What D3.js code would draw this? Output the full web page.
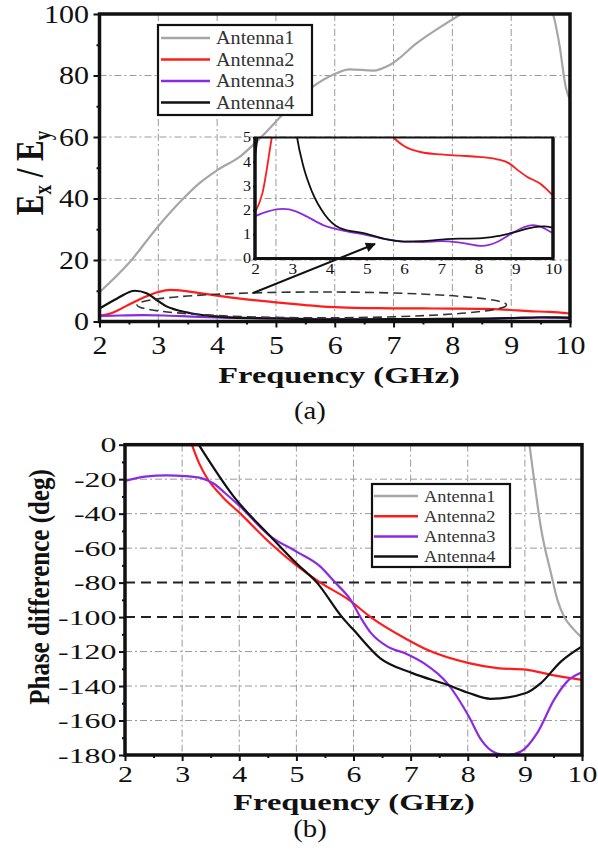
<!DOCTYPE html>
<html><head><meta charset="utf-8">
<script src="https://cdn.jsdelivr.net/npm/d3@7"></script>
<style>body{margin:0;background:#fff}svg{display:block}text{font-family:"Liberation Serif","Times New Roman",serif}</style>
</head><body><svg id="c" width="598" height="861"></svg>
<script>
// ---------- data ----------
const freqTicks = [2,3,4,5,6,7,8,9,10];
const ratioTicks = [0,20,40,60,80,100];
const insetTicks = [0,1,2,3,4,5];
const phaseTicks = [0,-20,-40,-60,-80,-100,-120,-140,-160,-180];
const names = ["Antenna1","Antenna2","Antenna3","Antenna4"];

// Ex/Ey ratio (Frequency GHz, ratio)
const ratioA1 = [[2,9.5],[2.5,19],[3,31],[3.4,39.5],[3.7,45],[4,49.2],[4.4,53.8],[4.75,60],[5.1,67],[5.6,76],[6,80.5],[6.25,82],[6.65,81.6],[6.95,83.6],[7.4,90.6],[7.8,95.8],[8.15,100],[8.5,104],[9.0,108],[9.4,107],[9.6,103],[9.71,100],[9.82,90],[9.93,76],[10,72]];
const ratioA2 = [[2,1.9],[2.2,2.7],[2.45,5],[2.75,7.8],[3,9.6],[3.2,10.3],[3.5,9.8],[4,8.4],[4.5,7.2],[5,6.2],[5.5,5.35],[5.75,4.95],[6,4.65],[6.5,4.38],[7,4.3],[7.5,4.25],[8,4.2],[8.5,4.1],[8.8,3.95],[9.1,3.6],[9.3,3.38],[9.65,3.1],[10,2.6]];
const ratioA3 = [[2,1.75],[2.35,1.95],[2.75,2.05],[3.1,1.95],[3.4,1.73],[3.83,1.38],[4.28,1.18],[5,0.97],[5.6,0.78],[6,0.7],[6.5,0.68],[7,0.72],[7.5,0.66],[8.1,0.52],[8.5,0.68],[8.85,1.0],[9.2,1.28],[9.45,1.38],[9.6,1.35],[9.8,1.22],[10,1.04]];
const ratioA4 = [[2,4.2],[2.3,7.5],[2.6,10],[2.8,9.2],[3,6.6],[3.13,5],[3.3,3.8],[3.53,2.76],[3.88,1.8],[4.28,1.26],[5,1.02],[5.5,0.8],[6,0.7],[6.5,0.72],[7,0.78],[7.5,0.82],[8,0.83],[8.5,0.92],[9,1.1],[9.5,1.3],[9.75,1.33],[10,1.27]];

// Phase difference (Frequency GHz, deg)
const phaseA1 = [[9.08,0],[9.16,-20],[9.28,-48],[9.46,-75],[9.57,-90],[9.69,-100],[9.85,-107],[10,-112]];
const phaseA2 = [[3.17,0],[3.3,-11],[3.43,-19],[3.7,-30],[4.02,-40],[4.54,-57],[5.0,-70],[5.42,-80],[5.92,-90],[6.3,-100],[6.94,-113],[7.29,-119],[8.02,-126.7],[8.52,-129.6],[9.02,-130.5],[9.46,-133.5],[10,-136.4]];
const phaseA3 = [[2,-21],[2.35,-18.5],[2.73,-17.8],[3.05,-18.2],[3.35,-19.5],[3.55,-22.5],[3.75,-28],[4.02,-36],[4.54,-53],[5.0,-62],[5.42,-70.7],[5.68,-80],[5.95,-90],[6.12,-100],[6.3,-109],[6.59,-117],[6.94,-121.5],[7.23,-126.7],[7.64,-138.3],[8.02,-157.7],[8.23,-171],[8.5,-179],[8.7,-180],[8.93,-178],[9.22,-167],[9.51,-148],[9.75,-137],[10,-132]];
const phaseA4 = [[3.29,0],[3.9,-30],[4.54,-53],[5.0,-68.8],[5.36,-80],[5.8,-100],[6.0,-107.4],[6.47,-124],[7.03,-132.5],[7.64,-139.3],[8.02,-144],[8.4,-147.4],[9.02,-144],[9.28,-138.3],[9.63,-125.8],[10,-117]];

const phaseRefLines = [-80,-100];
// annotation (data units): ellipse in main plot, arrow from main plot to inset
const ellipseCenter = [5.78, 5.4], ellipseRadius = [3.14, 4.2];
const arrowFromMain = [4.6, 9.2], arrowToInset = [5.22, 0.6];

const colors = ["#a6a6a6","#ff1c1c","#8a2be2","#111111"];
const ratioSeries = [ratioA1, ratioA2, ratioA3, ratioA4];
const phaseSeries = [phaseA1, phaseA2, phaseA3, phaseA4];

// ---------- drawing ----------
const svg = d3.select("#c");
const defs = svg.append("defs");
const gridDash = "7,3,2,3";

function txt(g, x, y, s, o) {
  const t = g.append("text")
    .attr("transform", `translate(${x},${y}) scale(${o.k||1},1)` + (o.rot ? ` rotate(${o.rot})` : ""))
    .attr("text-anchor", o.anchor || "middle")
    .attr("font-size", o.size)
    .attr("font-weight", o.weight || "normal")
    .attr("fill", o.fill || "#111");
  if (s !== null) t.text(s);
  return t;
}
function clip(id, x, y, w, h) {
  defs.append("clipPath").attr("id", id).append("rect").attr("x", x).attr("y", y).attr("width", w).attr("height", h);
}
function styleAxis(g, size, k, left) {
  g.attr("font-family", null).attr("font-size", null);
  g.select(".domain").remove();
  g.selectAll(".tick line").attr("stroke", "#111").attr("stroke-width", 2);
  g.selectAll(".tick text").attr("font-size", size).attr("fill", "#111")
    .attr("transform", `scale(${k},1)`)
    .each(function(){ if (left) { const t = d3.select(this); t.attr("x", +t.attr("x") / k); } });
}
function minor(g, axis, scale, vals, size) {
  g.append("g").call(axis(scale).tickValues(vals).tickSize(size).tickFormat("")).call(a => {
    a.select(".domain").remove();
    a.selectAll("line").attr("stroke", "#111").attr("stroke-width", 2);
  });
}

// ===== Chart (a) =====
const xA = d3.scaleLinear([2,10],[99.5,570]);
const yA = d3.scaleLinear([0,100],[321.5,14]);
const gA = svg.append("g");
clip("clipA", 99.5, 14, 470.5, 307.5);

gA.append("g").selectAll("line").data(freqTicks.slice(1,-1)).join("line")
  .attr("x1", d=>xA(d)).attr("x2", d=>xA(d)).attr("y1", yA(100)).attr("y2", yA(0))
  .attr("stroke","#9a9a9a").attr("stroke-dasharray",gridDash);
gA.append("g").selectAll("line").data(ratioTicks.slice(1,-1)).join("line")
  .attr("y1", d=>yA(d)).attr("y2", d=>yA(d)).attr("x1", xA(2)).attr("x2", xA(10))
  .attr("stroke","#9a9a9a").attr("stroke-dasharray",gridDash);

const lineA = d3.line().x(d=>xA(d[0])).y(d=>yA(d[1])).curve(d3.curveMonotoneX);
gA.append("g").attr("clip-path","url(#clipA)").selectAll("path").data(ratioSeries).join("path")
  .attr("d", lineA).attr("fill","none").attr("stroke",(d,i)=>colors[i]).attr("stroke-width",2.2);

const axLA = gA.append("g").attr("transform",`translate(${xA(2)},0)`)
  .call(d3.axisLeft(yA).tickValues(ratioTicks).tickSize(6).tickSizeOuter(0).tickPadding(4.5).tickFormat(d3.format("d")));
styleAxis(axLA, 25, 1.2, true);
minor(axLA, d3.axisLeft, yA, [10,30,50,70,90], 3);
const axBA = gA.append("g").attr("transform",`translate(0,${yA(0)})`)
  .call(d3.axisBottom(xA).tickValues(freqTicks).tickSize(6).tickSizeOuter(0).tickPadding(8.5).tickFormat(d3.format("d")));
styleAxis(axBA, 25, 1.2, false);
minor(axBA, d3.axisBottom, xA, [2.5,3.5,4.5,5.5,6.5,7.5,8.5,9.5], 3);
gA.append("rect").attr("x",xA(2)).attr("y",yA(100)).attr("width",xA(10)-xA(2)).attr("height",yA(0)-yA(100))
  .attr("fill","none").attr("stroke","#111").attr("stroke-width",3.5);

txt(svg, 339, 383, "Frequency (GHz)", {size:24, k:1.35, weight:"bold"});
txt(svg, 310, 419, "(a)", {size:25, k:1.15});
const yt = txt(svg, 43, 173, null, {size:31, k:1.3, weight:"bold", rot:-90});
yt.append("tspan").text("E");
yt.append("tspan").attr("font-size",19).attr("dy",6).text("x");
yt.append("tspan").attr("dy",-6).text(" / E");
yt.append("tspan").attr("font-size",19).attr("dy",6).text("y");

const legA = svg.append("g");
legA.append("rect").attr("x",158).attr("y",25).attr("width",154).attr("height",90)
  .attr("fill","#fff").attr("stroke","#111").attr("stroke-width",2.2);
names.forEach((n,i)=>{
  const cy = 38 + i*21.5;
  legA.append("line").attr("x1",161).attr("x2",210).attr("y1",cy).attr("y2",cy).attr("stroke",colors[i]).attr("stroke-width",2.5);
  txt(legA, 216, cy+6, n, {size:18, k:1.12, anchor:"start", fill:"#333"});
});

// inset
const xI = d3.scaleLinear([2,10],[255,553]);
const yI = d3.scaleLinear([0,5],[258.5,137.5]);
clip("clipI", 255, 137.5, 298, 121);
const gI = svg.append("g");
const lineI = d3.line().x(d=>xI(d[0])).y(d=>yI(d[1])).curve(d3.curveMonotoneX);
gI.append("g").attr("clip-path","url(#clipI)").selectAll("path").data(ratioSeries).join("path")
  .attr("d", lineI).attr("fill","none").attr("stroke",(d,i)=>colors[i]).attr("stroke-width",1.8);
gI.append("rect").attr("x",xI(2)).attr("y",yI(5)).attr("width",xI(10)-xI(2)).attr("height",yI(0)-yI(5))
  .attr("fill","none").attr("stroke","#111").attr("stroke-width",2);
gI.append("line").attr("x1",xI(2)).attr("x2",xI(2)).attr("y1",yI(5)).attr("y2",yI(0)).attr("stroke","#111").attr("stroke-width",3.5);
gI.append("line").attr("x1",xI(10)).attr("x2",xI(10)).attr("y1",yI(5)).attr("y2",yI(0)).attr("stroke","#111").attr("stroke-width",3.5);
gI.append("line").attr("x1",xI(2)).attr("x2",xI(10)).attr("y1",yI(0)).attr("y2",yI(0)).attr("stroke","#111").attr("stroke-width",3);
const axLI = gI.append("g").attr("transform",`translate(${xI(2)},0)`)
  .call(d3.axisLeft(yI).tickValues(insetTicks).tickSize(2).tickSizeOuter(0).tickPadding(2).tickFormat(d3.format("d")));
styleAxis(axLI, 14, 1.15, true);
const axBI = gI.append("g").attr("transform",`translate(0,${yI(0)})`)
  .call(d3.axisBottom(xI).tickValues(freqTicks).tickSize(2).tickSizeOuter(0).tickPadding(3).tickFormat(d3.format("d")));
styleAxis(axBI, 15, 1.15, false);

gA.append("ellipse").attr("cx", xA(ellipseCenter[0])).attr("cy", yA(ellipseCenter[1]))
  .attr("rx", xA(ellipseCenter[0]+ellipseRadius[0]) - xA(ellipseCenter[0]))
  .attr("ry", yA(ellipseCenter[1]) - yA(ellipseCenter[1]+ellipseRadius[1]))
  .attr("fill","none").attr("stroke","#333").attr("stroke-width",1.6).attr("stroke-dasharray","9,5");
defs.append("marker").attr("id","ah").attr("viewBox","0 0 10 10").attr("refX",9).attr("refY",5)
  .attr("markerWidth",6).attr("markerHeight",5).attr("orient","auto")
  .append("path").attr("d","M0,0 L10,5 L0,10 z").attr("fill","#111");
svg.append("line").attr("x1", xA(arrowFromMain[0])).attr("y1", yA(arrowFromMain[1]))
  .attr("x2", xI(arrowToInset[0])).attr("y2", yI(arrowToInset[1]))
  .attr("stroke","#111").attr("stroke-width",2).attr("marker-end","url(#ah)");

// ===== Chart (b) =====
const xB = d3.scaleLinear([2,10],[125,582]);
const yB = d3.scaleLinear([-180,0],[755,444.7]);
const gB = svg.append("g");
clip("clipB", 125, 444.7, 457, 310.3);
gB.append("g").selectAll("line").data(freqTicks.slice(1,-1)).join("line")
  .attr("x1", d=>xB(d)).attr("x2", d=>xB(d)).attr("y1", yB(0)).attr("y2", yB(-180))
  .attr("stroke","#9a9a9a").attr("stroke-dasharray",gridDash);
gB.append("g").selectAll("line").data(phaseTicks.filter(d=>d!==0 && d!==-180 && !phaseRefLines.includes(d))).join("line")
  .attr("y1", d=>yB(d)).attr("y2", d=>yB(d)).attr("x1", xB(2)).attr("x2", xB(10))
  .attr("stroke","#9a9a9a").attr("stroke-dasharray",gridDash);
gB.append("g").selectAll("line").data(phaseRefLines).join("line")
  .attr("y1", d=>yB(d)).attr("y2", d=>yB(d)).attr("x1", xB(2)).attr("x2", xB(10))
  .attr("stroke","#222").attr("stroke-width",2).attr("stroke-dasharray","10,6");

const lineB = d3.line().x(d=>xB(d[0])).y(d=>yB(d[1])).curve(d3.curveMonotoneX);
gB.append("g").attr("clip-path","url(#clipB)").selectAll("path").data(phaseSeries).join("path")
  .attr("d", lineB).attr("fill","none").attr("stroke",(d,i)=>colors[i]).attr("stroke-width",2.2);

const axLB = gB.append("g").attr("transform",`translate(${xB(2)},0)`)
  .call(d3.axisLeft(yB).tickValues(phaseTicks).tickSize(6).tickSizeOuter(0).tickPadding(2.5).tickFormat(d=>String(d)));
styleAxis(axLB, 22, 1.45, true);
minor(axLB, d3.axisLeft, yB, d3.range(-170,0,20), 3);
const axBB = gB.append("g").attr("transform",`translate(0,${yB(-180)})`)
  .call(d3.axisBottom(xB).tickValues(freqTicks).tickSize(6).tickSizeOuter(0).tickPadding(4.5).tickFormat(d3.format("d")));
styleAxis(axBB, 23, 1.3, false);
minor(axBB, d3.axisBottom, xB, [2.5,3.5,4.5,5.5,6.5,7.5,8.5,9.5], 3);
gB.append("rect").attr("x",xB(2)).attr("y",yB(0)).attr("width",xB(10)-xB(2)).attr("height",yB(-180)-yB(0))
  .attr("fill","none").attr("stroke","#111").attr("stroke-width",3.5);

txt(svg, 354, 810, "Frequency (GHz)", {size:24, k:1.35, weight:"bold"});
txt(svg, 310, 837, "(b)", {size:25, k:1.15});
txt(svg, 49, 587, "Phase difference (deg)", {size:25, k:1.2, weight:"bold", rot:-90});

const legB = svg.append("g");
legB.append("rect").attr("x",372).attr("y",484).attr("width",138).attr("height",83)
  .attr("fill","#fff").attr("stroke","#111").attr("stroke-width",2.2);
names.forEach((n,i)=>{
  const cy = 496 + i*20.2;
  legB.append("line").attr("x1",374).attr("x2",418).attr("y1",cy).attr("y2",cy).attr("stroke",colors[i]).attr("stroke-width",2.5);
  txt(legB, 424, cy+5.5, n, {size:17, k:1.08, anchor:"start", fill:"#333"});
});
</script></body></html>
